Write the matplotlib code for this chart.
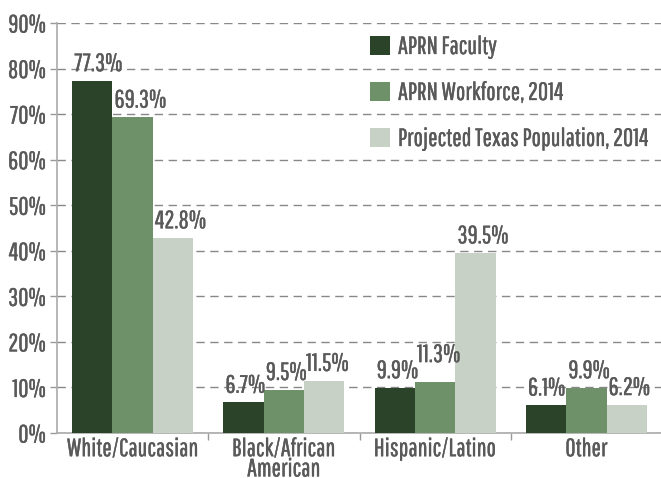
import matplotlib
matplotlib.use("Agg")
import matplotlib.pyplot as plt
import matplotlib.patheffects as pe
from matplotlib.ticker import FixedLocator, PercentFormatter
import numpy as np

categories = ["White/Caucasian", "Black/African\nAmerican", "Hispanic/Latino", "Other"]
series_names = ["APRN Faculty", "APRN Workforce, 2014", "Projected Texas Population, 2014"]
faculty = [77.3, 6.7, 9.9, 6.1]
workforce = [69.3, 9.5, 11.3, 9.9]
population = [42.8, 11.5, 39.5, 6.2]
yticks = [0, 10, 20, 30, 40, 50, 60, 70, 80, 90]

colors = ["#2B4328", "#6F916A", "#C7D1C5"]
text_color = "#595959"
plt.rcParams['font.family'] = ['Pathway Gothic One', 'Roboto Condensed', 'DejaVu Sans']
FS = 18
bold = [pe.withStroke(linewidth=0.25, foreground=text_color)]

W, H = 661, 478
fig = plt.figure(figsize=(W / 100, H / 100), dpi=100)
ax = fig.add_axes([57 / W, 45 / H, 605 / W, 410 / H])

x = np.arange(len(categories))
bw = 0.8 / 3
data = [faculty, workforce, population]
for i, (vals, name, c) in enumerate(zip(data, series_names, colors)):
    pos = x + (i - 1) * bw
    ax.bar(pos, vals, width=bw, color=c, label=name, zorder=3)
    for p, v in zip(pos, vals):
        dy = 7
        if name == series_names[1] and v == 11.3:
            dy = 14
        ax.annotate(f"{v:.1f}%", (p - bw / 2, v), xytext=(1.5, dy),
                    textcoords="offset points", ha="left", va="baseline",
                    fontsize=FS, color=text_color, zorder=4, path_effects=bold)

ax.set_xlim(-0.5, 3.5)
ax.set_ylim(0, 90)
ax.yaxis.set_major_locator(FixedLocator(yticks))
ax.yaxis.set_major_formatter(PercentFormatter(decimals=0))
ax.set_xticks(x)
ax.set_xticklabels(categories)
ax.set_xticks([0.5, 1.5, 2.5], minor=True)
ax.tick_params(axis="x", which="major", length=0, pad=3, labelsize=FS, labelcolor=text_color)
ax.tick_params(axis="x", which="minor", length=5, width=1, color="#999999")
ax.tick_params(axis="y", length=5, width=1, color="#999999", pad=3, labelsize=FS, labelcolor=text_color)
for lab in ax.get_xticklabels():
    lab.set_linespacing(0.8)
for lab in ax.get_xticklabels() + ax.get_yticklabels():
    lab.set_path_effects(bold)

ax.grid(axis="y", color="#888888", linestyle=(0, (6, 4)), linewidth=1, zorder=0)
for s in ["top", "right"]:
    ax.spines[s].set_visible(False)
ax.spines["left"].set_color("#aaaaaa")
ax.spines["bottom"].set_color("#aaaaaa")
ax.spines["left"].set_linewidth(1.2)
ax.spines["bottom"].set_linewidth(1.2)

fs_px = FS * 100 / 72
leg = ax.legend(loc="upper left", bbox_to_anchor=(370 / W, 1 - 35 / H),
                bbox_transform=fig.transFigure, frameon=False, fontsize=FS,
                handlelength=20 / fs_px, handleheight=20 / fs_px,
                handletextpad=8 / fs_px, labelspacing=22 / fs_px,
                borderpad=0, borderaxespad=0, labelcolor=text_color)
for t in leg.get_texts():
    t.set_path_effects(bold)

fig.savefig("out.png", dpi=100)
